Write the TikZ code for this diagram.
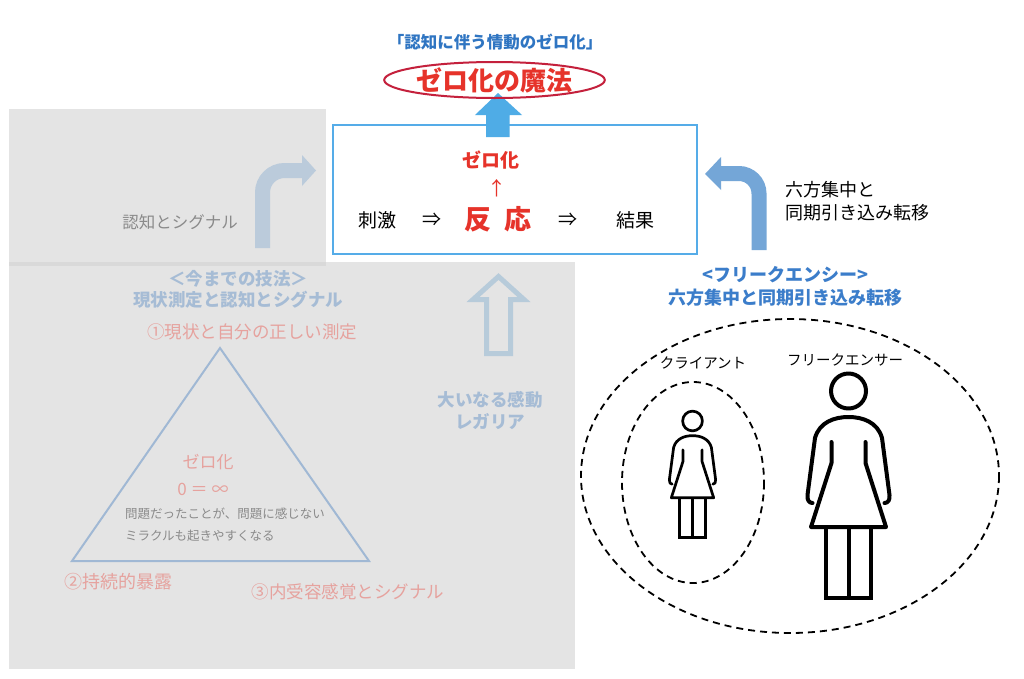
\documentclass[tikz,border=0pt]{standalone}
\usepackage{fontspec}
\setmainfont{Noto Sans CJK JP}
\usetikzlibrary{shapes.geometric}
\newcommand{\fsz}[1]{\fontsize{#1pt}{#1pt}\selectfont}
\definecolor{gbg}{HTML}{E4E4E4}
\definecolor{gband}{HTML}{D9D9D9}
\definecolor{boxblue}{HTML}{55ACE8}
\definecolor{arrblue}{HTML}{4FACE6}
\definecolor{titleblue}{HTML}{2F75C2}
\definecolor{zred}{HTML}{E6332A}
\definecolor{ellred}{HTML}{C4203C}
\definecolor{palearr}{HTML}{BBCBDB}
\definecolor{hollowarr}{HTML}{B7CBDA}
\definecolor{paletext}{HTML}{A6BCD5}
\definecolor{zpink}{HTML}{E6A29E}
\definecolor{tribl}{HTML}{A0B8D4}
\definecolor{gtext}{HTML}{8A8A8A}
\definecolor{rarr}{HTML}{74A6D7}
\definecolor{fblue}{HTML}{3B7DCA}
\newcommand{\womanfig}[4]{%
  \begin{scope}[shift={(#1,#2)}, scale=#3, line width=#4, line cap=round, line join=round]
    \draw (0,0) circle[radius=17.5];
    \draw (-36,112) .. controls (-39.5,112) and (-41.5,109) .. (-41,104) -- (-33.5,47)
      .. controls (-29,31) and (-14,26) .. (0,26)
      .. controls (14,26) and (29,31) .. (33.5,47) -- (41,104)
      .. controls (41.5,109) and (39.5,112) .. (36,112);
    \draw (-17,51) -- (-17,72) -- (-37.5,136) -- (37.5,136) -- (17,72) -- (17,51);
    \draw[line cap=butt, line join=miter] (-22.5,136) -- (-22.5,207) -- (22.5,207) -- (22.5,136);
    \draw[line cap=butt] (0,136) -- (0,207);
  \end{scope}}
\tikzset{
  txt/.style={inner sep=0pt, outer sep=0pt},
  dashell/.style={draw=black, line width=1.8pt, dash pattern=on 7pt off 5pt},
}
\begin{document}
\begin{tikzpicture}[x=1pt,y=-1pt]
\useasboundingbox (0,0) rectangle (1024,678);
\fill[white] (0,0) rectangle (1024,678);
% gray panels
\fill[gbg] (9,109) rectangle (326,266);
\fill[gbg] (9,262) rectangle (575,669);
\fill[gband] (9,262) rectangle (326,266);
% central box
\node[draw=boxblue, line width=2.2pt, fill=white, minimum width=364pt, minimum height=129pt, inner sep=0pt] (core) at (515,189.5) {};
% big blue arrow
\fill[arrblue] (498,93) -- (522,115) -- (509.5,115) -- (509.5,137) -- (486,137) -- (486,115) -- (475,115) -- cycle;
% title and ellipse
\node[txt, font={\fsz{16.5}\bfseries}, text=titleblue] (title) at (495,42) {「認知に伴う情動のゼロ化」};
\node[ellipse, draw=ellred, line width=2pt, minimum width=200pt, minimum height=36pt, inner sep=0pt, font={\fsz{26}\bfseries}, text=zred] (magic) at (494.5,80) {ゼロ化の魔法};
% box contents
\node[txt, font={\fsz{19}\bfseries}, text=zred] (zk) at (491,160) {ゼロ化};
\node[txt, font=\fsz{19}, text=zred] (uparr) at (497,188) {↑};
\node[txt, font=\fsz{19}] (shigeki) at (377,220) {刺激};
\node[txt, font=\fsz{19}] (imp1) at (432,220) {⇒};
\node[txt, font={\fsz{27}\bfseries}, text=zred] (hanno) at (498,219) {反\hspace{14pt}応};
\node[txt, font=\fsz{19}] (imp2) at (568,220) {⇒};
\node[txt, font=\fsz{19}] (kekka) at (635,220) {結果};
% left curved arrow
\draw[palearr, line width=15pt, rounded corners=22pt] (262.5,248) -- (262.5,170.5) -- (303,170.5);
\fill[palearr] (302,155) -- (316,170.5) -- (302,186) -- cycle;
\node[txt, font=\fsz{16.5}, text=gtext] (ninchi) at (180,222) {認知とシグナル};
% left headings
\node[txt, font={\fsz{17.5}\bfseries}, text=paletext] (gihou) at (238,279) {＜今までの技法＞};
\node[txt, font={\fsz{17.5}\bfseries}, text=paletext] (gihou2) at (238,300) {現状測定と認知とシグナル};
\node[txt, font=\fsz{17.5}, text=zpink] (p1) at (252,332) {①現状と自分の正しい測定};
% triangle
\draw[tribl, line width=2pt, line join=miter] (220,348) -- (369,561) -- (72,561) -- cycle;
\node[txt, font=\fsz{17}, text=zpink] (tzk) at (208,462) {ゼロ化};
\node[txt, font=\fsz{17}, text=zpink] (teq) at (203,489) {0 ＝ ∞};
\node[txt, font=\fsz{12.5}, text=gtext, anchor=west] (tl1) at (125,514) {問題だったことが、問題に感じない};
\node[txt, font=\fsz{12.5}, text=gtext, anchor=west] (tl2) at (125,536) {ミラクルも起きやすくなる};
\node[txt, font=\fsz{18}, text=zpink] (p2) at (118,582) {②持続的暴露};
\node[txt, font=\fsz{17.5}, text=zpink] (p3) at (348,592) {③内受容感覚とシグナル};
% hollow arrow
\draw[hollowarr, line width=5pt, line join=miter] (498.5,276.5) -- (524,299.5) -- (510.5,299.5) -- (510.5,353.5) -- (486.5,353.5) -- (486.5,299.5) -- (473,299.5) -- cycle;
\node[txt, font={\fsz{17.5}\bfseries}, text=paletext] (kando) at (490,400) {大いなる感動};
\node[txt, font={\fsz{17.5}\bfseries}, text=paletext] (regalia) at (490,422) {レガリア};
% right curved arrow
\draw[rarr, line width=15pt, rounded corners=20pt] (759,250) -- (759,173.5) -- (720,173.5);
\fill[rarr] (721,157) -- (705,174) -- (721,190) -- cycle;
\node[txt, font=\fsz{18}, anchor=west] (rk1) at (785,190) {六方集中と};
\node[txt, font=\fsz{18}, anchor=west] (rk2) at (785,213) {同期引き込み転移};
\node[txt, font={\fsz{18}\bfseries}, text=fblue] (freq) at (785,275) {<フリークエンシー>};
\node[txt, font={\fsz{18}\bfseries}, text=fblue] (freq2) at (785,298) {六方集中と同期引き込み転移};
% ellipses and figures
\draw[dashell] (790,476) ellipse [x radius=209, y radius=157];
\draw[dashell] (693,482.5) ellipse [x radius=71, y radius=100.5];
\node[txt, font=\fsz{14.5}] (client) at (703,363) {クライアント};
\node[txt, font=\fsz{14.5}] (freqer) at (845,360) {フリークエンサー};
\womanfig{848.5}{391}{1}{4pt}
\womanfig{692.5}{421}{0.564}{2.7pt}
\end{tikzpicture}
\end{document}
